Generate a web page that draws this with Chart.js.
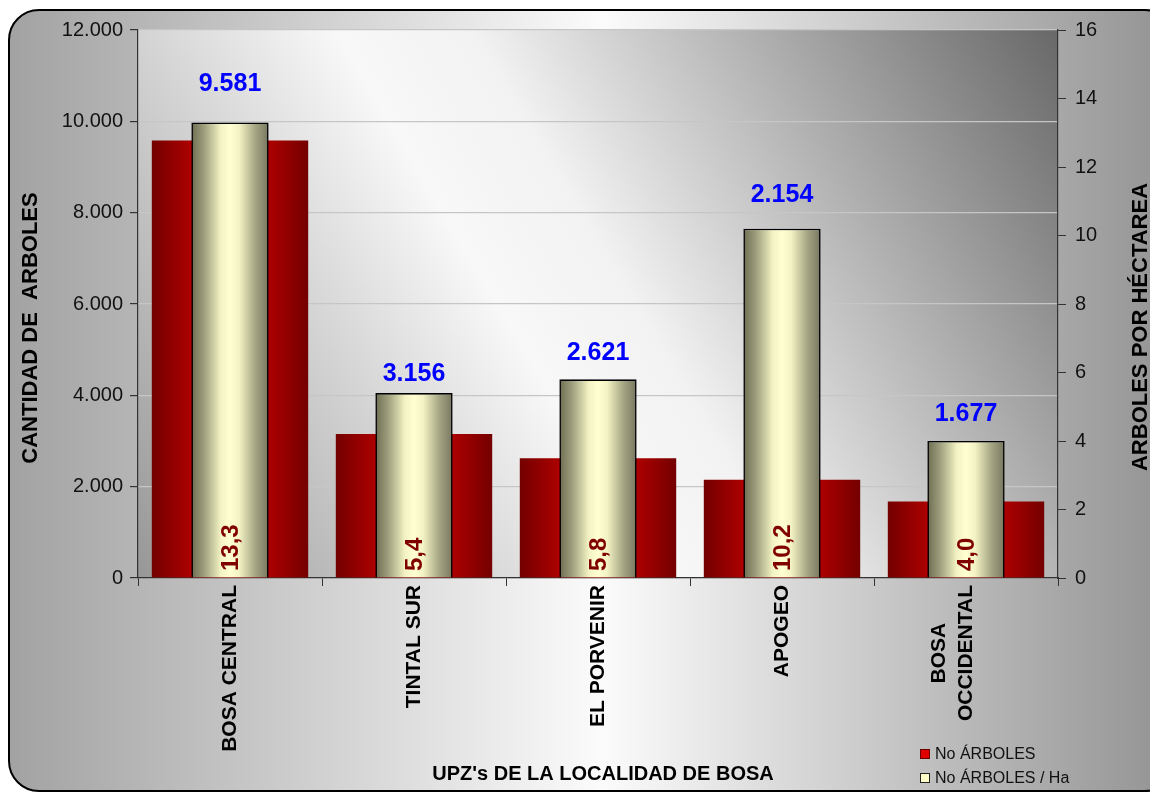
<!DOCTYPE html>
<html lang="es">
<head>
<meta charset="utf-8">
<title>Árboles por UPZ - Localidad de Bosa</title>
<script src="https://cdn.jsdelivr.net/npm/chart.js@4.4.1/dist/chart.umd.min.js"></script>
<style>
    html, body { margin: 0; padding: 0; background: #ffffff; }
    #grafica { display: block; }
</style>
</head>
<body>
<canvas id="grafica" width="1150" height="792"></canvas>
<script>
// ── Datos ────────────────────────────────────────────────────────────────────
const categorias = ['BOSA CENTRAL', 'TINTAL SUR', 'EL PORVENIR', 'APOGEO', ['BOSA', 'OCCIDENTAL']];
const arboles    = [9581, 3156, 2621, 2154, 1677];
const arbolesHa  = [13.3, 5.4, 5.8, 10.2, 4.0];

const escalaArboles   = { min: 0, max: 12000, paso: 2000 };
const escalaArbolesHa = { min: 0, max: 16,    paso: 2 };

// ── Estilo ───────────────────────────────────────────────────────────────────
const FUENTE = '"Liberation Sans", Arial, Helvetica, sans-serif';
const ALTURA_ETIQUETA = [38, 19, 26, 34, 27];   // separación de las cifras azules sobre la barra

const miles = v => String(Math.round(v)).replace(/\B(?=(\d{3})+(?!\d))/g, '.');

function gradienteBarra(ctx, paradas, fallback) {
    const chart = ctx.chart;
    const x = chart.scales.x;
    if (ctx.type !== 'data' || !x || !chart.chartArea) return fallback;
    const cx   = x.getPixelForValue(ctx.dataIndex);
    const half = (x.width / categorias.length) * ctx.dataset.barPercentage / 2;
    if (!isFinite(cx) || !isFinite(half)) return fallback;
    const g = chart.ctx.createLinearGradient(cx - half, 0, cx + half, 0);
    paradas.forEach(([p, c]) => g.addColorStop(p, c));
    return g;
}

const paradasRojo = [[0, '#740000'], [0.5, '#e40000'], [1, '#740000']];
const paradasCrema = [[0, '#6c6c52'], [0.18, '#a4a482'], [0.38, '#f2f2c4'], [0.5, '#ffffd2'],
                      [0.62, '#f2f2c4'], [0.82, '#a8a886'], [1, '#767660']];

// ── Fondo: marco redondeado y área del gráfico ──────────────────────────────
const fondo = {
    id: 'fondo',
    beforeDraw(chart) {
        const { ctx, chartArea: a, width, height } = chart;
        ctx.save();
        ctx.fillStyle = '#ffffff';
        ctx.fillRect(0, 0, width, height);

        const x0 = 9, y0 = 10, x1 = 1175, y1 = 791, r = 30;
        const gm = ctx.createLinearGradient(x0, 0, width, 0);
        gm.addColorStop(0, '#a2a2a2');
        gm.addColorStop(0.52, '#fbfbfb');
        gm.addColorStop(1, '#979797');
        ctx.beginPath();
        ctx.roundRect(x0, y0, x1 - x0, y1 - y0, r);
        ctx.fillStyle = gm;
        ctx.fill();
        ctx.lineWidth = 2;
        ctx.strokeStyle = '#000';
        ctx.stroke();

        const ga = ctx.createLinearGradient(a.right, a.top, a.left, a.bottom);
        ga.addColorStop(0, '#686868');
        ga.addColorStop(0.47, '#f2f2f2');
        ga.addColorStop(0.58, '#f8f8f8');
        ga.addColorStop(1, '#979797');
        ctx.fillStyle = ga;
        ctx.fillRect(a.left, a.top, a.right - a.left, a.bottom - a.top);
        ctx.restore();
    }
};

// ── Textos: cifras, categorías, títulos de ejes y leyenda ───────────────────
const textos = {
    id: 'textos',
    afterDatasetsDraw(chart) {
        const { ctx, scales: { x, y2 } } = chart;
        ctx.save();

        // cifras azules (número de árboles) sobre cada barra crema
        ctx.font = `bold 25px ${FUENTE}`;
        ctx.fillStyle = '#0000ff';
        ctx.textAlign = 'center';
        ctx.textBaseline = 'middle';
        arboles.forEach((v, i) => {
            const cx = x.getPixelForValue(i);
            const top = y2.getPixelForValue(arbolesHa[i]);
            ctx.fillText(miles(v), cx, top - ALTURA_ETIQUETA[i]);
        });

        // cifras verticales (árboles por hectárea) dentro de la barra
        ctx.font = `bold 24px ${FUENTE}`;
        ctx.fillStyle = '#800000';
        ctx.textAlign = 'left';
        arbolesHa.forEach((v, i) => {
            ctx.save();
            ctx.translate(x.getPixelForValue(i), chart.chartArea.bottom - 7);
            ctx.rotate(-Math.PI / 2);
            ctx.fillText(v.toFixed(1).replace('.', ','), 0, 1);
            ctx.restore();
        });

        // etiquetas de categoría, giradas y centradas
        ctx.font = `bold 21px ${FUENTE}`;
        ctx.fillStyle = '#000';
        ctx.textAlign = 'center';
        categorias.forEach((lbl, i) => {
            const lineas = Array.isArray(lbl) ? lbl : [lbl];
            const anchoMax = Math.max(...lineas.map(l => ctx.measureText(l).width));
            ctx.save();
            ctx.translate(x.getPixelForValue(i), chart.chartArea.bottom + 7);
            ctx.rotate(-Math.PI / 2);
            lineas.forEach((l, j) => {
                ctx.fillText(l, -anchoMax / 2, (j - (lineas.length - 1)) * 27);
            });
            ctx.restore();
        });

        // títulos de ejes
        ctx.font = `bold 22px ${FUENTE}`;
        [['CANTIDAD DE  ARBOLES', 31, 328], ['ARBOLES POR HÉCTAREA', 1141, 327]].forEach(([t, tx, ty]) => {
            ctx.save();
            ctx.translate(tx, ty);
            ctx.rotate(-Math.PI / 2);
            ctx.fillText(t, 0, 0);
            ctx.restore();
        });
        ctx.font = `bold 20px ${FUENTE}`;
        ctx.fillText("UPZ's DE LA LOCALIDAD DE BOSA", 603, 774);

        // leyenda
        const muestras = [['#e00000', '#6a0000'], ['#ffffc8', '#222']];
        ctx.font = `16px ${FUENTE}`;
        ctx.textAlign = 'left';
        chart.data.datasets.forEach((ds, k) => {
            const ly = 754 + k * 24;
            ctx.fillStyle = muestras[k][0];
            ctx.fillRect(920, ly - 5, 10, 10);
            ctx.strokeStyle = muestras[k][1];
            ctx.lineWidth = 1;
            ctx.strokeRect(920.5, ly - 4.5, 9, 9);
            ctx.fillStyle = '#111';
            ctx.fillText(ds.label, 935, ly + 1);
        });

        ctx.restore();
    }
};

// ── Gráfica ──────────────────────────────────────────────────────────────────
new Chart(document.getElementById('grafica'), {
    type: 'bar',
    data: {
        labels: categorias,
        datasets: [
            {
                label: 'No ÁRBOLES',
                data: arboles,
                yAxisID: 'y',
                grouped: false,
                order: 2,
                barPercentage: 0.85,
                categoryPercentage: 1,
                borderWidth: 0,
                backgroundColor: c => gradienteBarra(c, paradasRojo, '#c00000')
            },
            {
                label: 'No ÁRBOLES / Ha',
                data: arbolesHa,
                yAxisID: 'y2',
                grouped: false,
                order: 1,
                barPercentage: 0.42,
                categoryPercentage: 1,
                borderWidth: 1.6,
                borderColor: '#000',
                backgroundColor: c => gradienteBarra(c, paradasCrema, '#ffffcc')
            }
        ]
    },
    options: {
        responsive: false,
        animation: false,
        devicePixelRatio: 1,
        layout: { padding: { top: 30, left: 0, right: 0, bottom: 0 } },
        plugins: {
            legend: { display: false },
            tooltip: { enabled: false },
            title: { display: false }
        },
        scales: {
            x: {
                offset: true,
                ticks: { display: false },
                grid: { drawOnChartArea: false, tickLength: 8, tickColor: '#333', offset: true },
                border: { color: '#333', width: 1.2 },
                afterFit: s => { s.height = 214; }
            },
            y: {
                position: 'left',
                min: escalaArboles.min,
                max: escalaArboles.max,
                ticks: {
                    stepSize: escalaArboles.paso,
                    padding: 7,
                    color: '#111',
                    font: { family: FUENTE, size: 20 },
                    callback: v => miles(v)
                },
                grid: { color: '#c6c6c6', lineWidth: 1.2, tickLength: 8, tickColor: '#333' },
                border: { color: '#333', width: 1.2 },
                afterFit: s => { s.width = 138; }
            },
            y2: {
                position: 'right',
                min: escalaArbolesHa.min,
                max: escalaArbolesHa.max,
                ticks: {
                    stepSize: escalaArbolesHa.paso,
                    padding: 9,
                    color: '#111',
                    font: { family: FUENTE, size: 20 }
                },
                grid: { drawOnChartArea: false, tickLength: 8, tickColor: '#333' },
                border: { color: '#333', width: 1.2 },
                afterFit: s => { s.width = 92; }
            }
        }
    },
    plugins: [fondo, textos]
});
</script>
</body>
</html>
